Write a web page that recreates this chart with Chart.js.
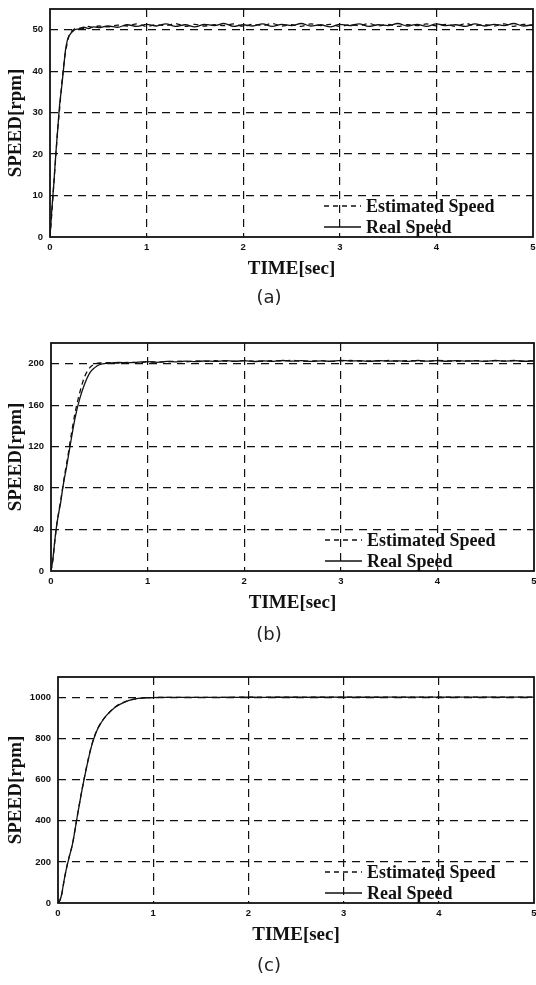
<!DOCTYPE html>
<html>
<head>
<meta charset="utf-8">
<script src="https://cdn.jsdelivr.net/npm/chart.js@4.4.1/dist/chart.umd.min.js"></script>
<style>
	body { margin: 0; background: #fff; width: 536px; height: 985px; position: relative; overflow: hidden; }
	.panel { position: absolute; left: 0; width: 536px; height: 290px; }
	.caption { position: absolute; left: 243px; width: 52px; text-align: center; font-family: "DejaVu Sans"; font-size: 18px; line-height: 22px; color: #222; }
</style>
</head>
<body>
<div class="panel" style="top:0px"><canvas id="chartA" width="536" height="290"></canvas></div>
<div class="caption" style="top:286px">(a)</div>
<div class="panel" style="top:334px"><canvas id="chartB" width="536" height="290"></canvas></div>
<div class="caption" style="top:623px">(b)</div>
<div class="panel" style="top:668px"><canvas id="chartC" width="536" height="290"></canvas></div>
<div class="caption" style="top:954px">(c)</div>
<script>
"use strict";
// time axis [sec], shared by all three plots
const time = [0, 0.02, 0.04, 0.06, 0.08, 0.1, 0.12, 0.14, 0.16, 0.18, 0.2, 0.25, 0.3, 0.35, 0.4, 0.45, 0.5,
	0.6, 0.7, 0.8, 0.9, 1.0, 1.1, 1.2, 1.3, 1.4, 1.5, 1.6, 1.7, 1.8, 1.9, 2.0, 2.1, 2.2, 2.3, 2.4, 2.5,
	2.6, 2.7, 2.8, 2.9, 3.0, 3.1, 3.2, 3.3, 3.4, 3.5, 3.6, 3.7, 3.8, 3.9, 4.0, 4.1, 4.2, 4.3, 4.4, 4.5,
	4.6, 4.7, 4.8, 4.9, 5.0];

// (a) 50 rpm
const realA = [0, 7, 13, 20, 26, 32, 36, 40.5, 45, 47.5, 48.6, 49.9, 50.2, 50.6, 50.3, 50.7, 50.5,
	50.9, 50.6, 51.2, 50.8, 51.3, 50.9, 51.4, 50.8, 51.2, 50.7, 51.3, 51.0, 51.5, 50.8, 51.2, 50.9, 51.4, 50.8,
	51.3, 51.0, 51.5, 50.9, 51.2, 50.7, 51.3, 51.0, 51.4, 50.8, 51.2, 51.0, 51.5, 50.9, 51.3, 50.8, 51.4, 51.0,
	51.2, 50.8, 51.4, 50.9, 51.3, 51.0, 51.5, 50.9, 51.2];
const estA = [0, 6, 13, 19.5, 26, 31, 36.5, 41, 44.5, 47, 48.8, 50.1, 50.4, 50.3, 50.8, 50.5, 50.9,
	50.7, 51.1, 50.9, 51.4, 50.8, 51.2, 51.0, 51.5, 50.8, 51.3, 50.9, 51.2, 51.0, 51.4, 50.8, 51.3, 51.0, 51.5,
	50.9, 51.2, 50.8, 51.4, 51.0, 51.3, 50.8, 51.2, 51.0, 51.5, 50.9, 51.3, 50.8, 51.2, 51.0, 51.4, 50.9, 51.3,
	50.8, 51.5, 51.0, 51.2, 50.9, 51.4, 50.8, 51.3, 51.0];

// (b) 200 rpm
const realB = [0, 12, 30, 45, 56, 66, 79, 90, 100, 111, 122, 148, 167, 181, 191, 196, 199,
	200.5, 201.2, 200.8, 201.6, 202.0, 201.4, 202.3, 201.8, 202.6, 202.0, 202.8, 202.2, 203.0, 202.4, 202.9,
	202.1, 202.7, 202.3, 203.1, 202.5, 202.9, 202.2, 202.8, 202.4, 203.2, 202.6, 202.9, 202.3, 203.0, 202.5,
	202.8, 202.2, 203.1, 202.6, 202.9, 202.4, 203.0, 202.5, 202.8, 202.3, 203.1, 202.6, 202.9, 202.4, 202.8];
const estB = [0, 11, 29, 45, 57, 68, 80, 92, 103, 114, 126, 153, 173, 188, 196, 199.5, 200.8,
	201.0, 200.6, 201.4, 201.0, 201.8, 201.5, 202.1, 202.4, 201.9, 202.7, 202.3, 202.9, 202.5, 202.2, 203.0,
	202.6, 202.4, 202.9, 202.7, 203.2, 202.4, 202.7, 202.9, 202.3, 202.8, 203.1, 202.5, 202.8, 202.6, 203.1,
	202.4, 202.9, 202.7, 202.5, 203.2, 202.8, 202.4, 202.7, 203.0, 202.5, 202.9, 202.6, 203.1, 202.5, 202.9];

// (c) 1000 rpm
const realC = [0, 12, 45, 100, 148, 190, 228, 262, 305, 360, 415, 545, 660, 760, 830, 875, 908,
	953, 978, 992, 998, 1000, 1000.5, 1001, 1000.8, 1001.2, 1001, 1001.3, 1001.1, 1001.4, 1001.2, 1001.5,
	1001.3, 1001.2, 1001.5, 1001.4, 1001.6, 1001.3, 1001.5, 1001.4, 1001.6, 1001.5, 1001.7, 1001.4, 1001.6,
	1001.5, 1001.7, 1001.6, 1001.5, 1001.7, 1001.6, 1001.8, 1001.5, 1001.7, 1001.6, 1001.8, 1001.7, 1001.6,
	1001.8, 1001.7, 1001.9, 1001.7];
const estC = [0, 14, 44, 98, 149, 192, 229, 263, 306, 361, 416, 546, 662, 762, 832, 877, 907,
	954, 979, 992, 998, 1000, 1000.6, 1000.9, 1001, 1001.1, 1001.2, 1001.2, 1001.3, 1001.3, 1001.4, 1001.4,
	1001.4, 1001.5, 1001.5, 1001.5, 1001.5, 1001.6, 1001.6, 1001.6, 1001.6, 1001.6, 1001.7, 1001.7, 1001.7,
	1001.7, 1001.7, 1001.7, 1001.8, 1001.8, 1001.8, 1001.8, 1001.8, 1001.8, 1001.8, 1001.8, 1001.9, 1001.9,
	1001.9, 1001.9, 1001.9, 1001.9];

const ink = "#111";
const noLine = "rgba(0,0,0,0)";
const tickFont = { family: '"Liberation Sans", Arial, sans-serif', size: 9.5, weight: "bold" };
const titleFont = { family: '"Liberation Serif", "Times New Roman", serif', size: 19, weight: "bold" };

const toPoints = (values) => values.map((v, i) => ({ x: time[i], y: v }));

// solid box round the plot area
const frame = {
	id: "frame",
	afterDraw(chart) {
		const { ctx, chartArea } = chart;
		ctx.save();
		ctx.setLineDash([]);
		ctx.lineWidth = 1.8;
		ctx.strokeStyle = ink;
		ctx.strokeRect(chartArea.left, chartArea.top, chartArea.width, chartArea.height);
		ctx.restore();
	},
};

// legend drawn inside the lower right corner, like the matlab one
const insideLegend = {
	id: "insideLegend",
	afterDraw(chart) {
		const { ctx, chartArea } = chart;
		const textX = chartArea.right - 167;
		const rows = [31, 10];
		ctx.save();
		ctx.font = 'bold 18px "Liberation Serif", serif';
		ctx.textBaseline = "middle";
		ctx.fillStyle = ink;
		ctx.strokeStyle = ink;
		ctx.lineWidth = 1.3;
		chart.data.datasets.forEach((ds, i) => {
			const y = chartArea.bottom - rows[i];
			ctx.setLineDash(ds.borderDash || []);
			ctx.beginPath();
			ctx.moveTo(textX - 42, y);
			ctx.lineTo(textX - 5, y);
			ctx.stroke();
			ctx.setLineDash([]);
			ctx.fillText(ds.label, textX, y + 1);
		});
		ctx.restore();
	},
};

const makeSpeedChart = (id, est, real, yMax, yStep, plotLeft, plotRight, plotHeight) => {
	const ctx = document.getElementById(id).getContext("2d");
	return new Chart(ctx, {
		type: "line",
		data: {
			datasets: [
				{
					label: "Estimated Speed",
					data: toPoints(est),
					borderColor: ink,
					borderWidth: 1.3,
					borderDash: [5, 4],
					pointRadius: 0,
					cubicInterpolationMode: "monotone",
				},
				{
					label: "Real Speed",
					data: toPoints(real),
					borderColor: ink,
					borderWidth: 1.3,
					pointRadius: 0,
					cubicInterpolationMode: "monotone",
				},
			],
		},
		options: {
			responsive: false,
			animation: false,
			layout: { padding: { top: 9, left: 0, right: 536 - plotRight, bottom: 290 - 9 - plotHeight - 43 } },
			plugins: { legend: { display: false }, tooltip: { enabled: false } },
			scales: {
				x: {
					type: "linear",
					min: 0,
					max: 5,
					ticks: { stepSize: 1, padding: 5, maxRotation: 0, autoSkip: false, color: ink, font: tickFont },
					grid: {
						color: (c) => (c.tick.value === 0 || c.tick.value === 5 ? noLine : ink),
						lineWidth: 1.2,
						drawTicks: false,
					},
					border: { display: false, dash: [8, 6] },
					title: { display: true, text: "TIME[sec]", color: ink, font: titleFont, padding: { top: 0, bottom: 0 } },
					afterFit: (s) => {
						s.height = 43;
						s.paddingLeft = 0;
						s.paddingRight = 0;
					},
				},
				y: {
					type: "linear",
					min: 0,
					max: yMax,
					ticks: {
						stepSize: yStep,
						includeBounds: false,
						padding: 7,
						color: ink,
						font: tickFont,
						callback: (value) => String(value),
					},
					grid: {
						color: (c) => (c.tick.value === 0 ? noLine : ink),
						lineWidth: 1.2,
						drawTicks: false,
					},
					border: { display: false, dash: [8, 6] },
					title: { display: true, text: "SPEED[rpm]", color: ink, font: titleFont, padding: { top: 5, bottom: 0 } },
					afterFit: (s) => {
						s.width = plotLeft;
						s.paddingTop = 0;
						s.paddingBottom = 0;
					},
				},
			},
		},
		plugins: [frame, insideLegend],
	});
};

makeSpeedChart("chartA", estA, realA, 55, 10, 50, 533, 228);
makeSpeedChart("chartB", estB, realB, 220, 40, 51, 534, 228);
makeSpeedChart("chartC", estC, realC, 1100, 200, 58, 534, 226);
</script>
</body>
</html>
